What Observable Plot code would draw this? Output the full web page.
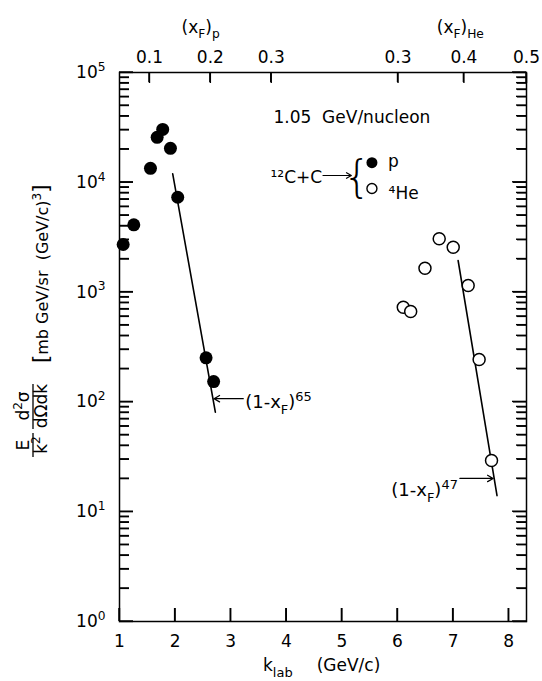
<!DOCTYPE html>
<html><head><meta charset="utf-8">
<script src="https://cdn.jsdelivr.net/npm/d3@7"></script>
<script src="https://cdn.jsdelivr.net/npm/@observablehq/plot@0.6"></script>
<style>body{margin:0;background:#fff} svg{display:block}</style>
</head><body><div id="chart"></div>
<script>
// ---- data ----
const protonK   = [1.066, 1.257, 1.557, 1.677, 1.777, 1.916, 2.047, 2.557, 2.693];
const protonXs  = [2715, 4100, 13400, 25700, 30300, 20400, 7310, 252, 153];
const heliumK   = [6.104, 6.237, 6.494, 6.750, 7.002, 7.271, 7.468, 7.691];
const heliumXs  = [728, 666, 1650, 3057, 2565, 1148, 243, 29.3];
const protonFitK  = [1.957, 2.724];
const protonFitXs = [11950, 80.6];
const heliumFitK  = [7.09, 7.79];
const heliumFitXs = [1940, 14];
const kTicks   = [1, 2, 3, 4, 5, 6, 7, 8];
const yDecades = [1, 10, 100, 1000, 10000, 100000];
const xFpLabels  = ["0.1", "0.2", "0.3"];
const xFpAtK     = [1.539, 2.634, 3.729];
const xFHeLabels = ["0.3", "0.4", "0.5"];
const xFHeAtK    = [6.009, 7.194, 8.32];

const protons = protonK.map((k, i) => ({k, v: protonXs[i]}));
const helium  = heliumK.map((k, i) => ({k, v: heliumXs[i]}));
const pFit = protonFitK.map((k, i) => ({k, v: protonFitXs[i]}));
const hFit = heliumFitK.map((k, i) => ({k, v: heliumFitXs[i]}));
const minor = yDecades.slice(0, -1).flatMap(d => [2,3,4,5,6,7,8,9].map(m => d * m));

const font = "'DejaVu Sans', sans-serif";
const W = 542, H = 681, mL = 119, mR = 16, mT = 72, mB = 60;

const svg = Plot.plot({
  width: W, height: H,
  marginLeft: mL, marginRight: mR, marginTop: mT, marginBottom: mB,
  style: {fontFamily: font, fontSize: "17px", color: "black", background: "white"},
  x: {domain: [1, 8.32]},
  y: {type: "log", domain: [1, 1e5]},
  marks: [
    Plot.frame({stroke: "black", strokeWidth: 1.5}),
    // inward ticks + labels
    Plot.axisX(kTicks, {anchor: "bottom", tickSize: 13, dy: -13, tickPadding: 13, stroke: "black", strokeWidth: 1.4, tickFormat: d => String(d), label: null}),
    Plot.axisX(xFpAtK, {anchor: "top", tickSize: 10, dy: 10, tickPadding: 10, stroke: "black", strokeWidth: 1.4, tickFormat: d => xFpLabels[xFpAtK.indexOf(d)], label: null}),
    Plot.axisX(xFHeAtK, {anchor: "top", tickSize: 10, dy: 10, tickPadding: 10, stroke: "black", strokeWidth: 1.4, tickFormat: d => xFHeLabels[xFHeAtK.indexOf(d)], label: null}),
    Plot.axisY(yDecades, {anchor: "left", tickSize: 14, dx: 14, tickPadding: 14, stroke: "black", strokeWidth: 1.3, tickFormat: d => "10^{" + Math.round(Math.log10(d)) + "}", label: null}),
    Plot.axisY(minor, {anchor: "left", tickSize: 10, dx: 10, stroke: "black", strokeWidth: 1.3, tickFormat: () => "", label: null}),
    Plot.axisY(yDecades, {anchor: "right", tickSize: 14, dx: -14, stroke: "black", strokeWidth: 1.3, tickFormat: () => "", label: null}),
    Plot.axisY(minor, {anchor: "right", tickSize: 10, dx: -10, stroke: "black", strokeWidth: 1.3, tickFormat: () => "", label: null}),
    // fits
    Plot.line(pFit, {x: "k", y: "v", stroke: "black", strokeWidth: 1.6}),
    Plot.line(hFit, {x: "k", y: "v", stroke: "black", strokeWidth: 1.6}),
    // data
    Plot.dot(protons, {x: "k", y: "v", r: 6.5, fill: "black", stroke: "none"}),
    Plot.dot(helium, {x: "k", y: "v", r: 6, fill: "white", stroke: "black", strokeWidth: 1.5}),
    // fit annotations
    Plot.arrow([0], {x1: 3.226, y1: 107, x2: 2.70, y2: 107, stroke: "black", strokeWidth: 1.2, headLength: 8}),
    Plot.text(["(1-x_{F})^{65}"], {x: 3.26, y: 99, textAnchor: "start", fontSize: 18}),
    Plot.arrow([0], {x1: 7.122, y1: 20.1, x2: 7.72, y2: 20.1, stroke: "black", strokeWidth: 1.2, headLength: 8}),
    Plot.text(["(1-x_{F})^{47}"], {x: 7.086, y: 15.6, textAnchor: "end", fontSize: 18}),
    // legend
    Plot.text(["1.05  GeV/nucleon"], {x: 5.18, y: 38900, fontSize: 17}),
    Plot.text(["¹²C+C"], {x: 4.645, y: 11000, textAnchor: "end", fontSize: 17}),
    Plot.arrow([0], {x1: 4.66, y1: 11530, x2: 5.17, y2: 11530, stroke: "black", strokeWidth: 1.2, headLength: 7}),
    Plot.text(["{"], {x: 5.27, y: 11000, fontSize: 44, fontWeight: 300}),
    Plot.dot([0], {x: 5.54, y: 15100, r: 5.5, fill: "black"}),
    Plot.dot([0], {x: 5.54, y: 8780, r: 5, fill: "white", stroke: "black", strokeWidth: 1.4}),
    Plot.text(["p"], {x: 5.83, y: 15500, textAnchor: "start", fontSize: 17}),
    Plot.text(["⁴He"], {x: 5.84, y: 7900, textAnchor: "start", fontSize: 17}),
    // top axis titles
    Plot.text(["(x_{F})_{p}"], {x: 2.46, frameAnchor: "top", dy: -52, fontSize: 17}),
    Plot.text(["(x_{F})_{He}"], {x: 7.13, frameAnchor: "top", dy: -52, fontSize: 17})
  ]
});

document.getElementById("chart").appendChild(svg);

// turn ^{..} and _{..} into real superscript / subscript tspans
function richify(root) {
  const re = /([\^_])\{([^}]*)\}|([^\^_]+)/g;
  d3.select(root).selectAll("text").each(function() {
    const t = this.textContent;
    if (!/[\^_]\{/.test(t)) return;
    const fs = parseFloat(getComputedStyle(this).fontSize) || 17;
    this.textContent = "";
    let shift = 0;
    for (const m of t.matchAll(re)) {
      let target = 0, str, small = false;
      if (m[1]) { target = m[1] === "^" ? -0.42 * fs : 0.32 * fs; str = m[2]; small = true; }
      else str = m[3];
      const ts = d3.select(this).append("tspan").text(str);
      if (target !== shift) ts.attr("dy", target - shift);
      if (small) ts.attr("font-size", 0.72 * fs);
      shift = target;
    }
  });
}
richify(svg);

const s = d3.select(svg);
// x-axis title
const xl = s.append("text").attr("x", 263).attr("y", 671).attr("text-anchor", "start")
  .attr("font-family", font).attr("font-size", 17).attr("fill", "black");
xl.append("tspan").text("k");
xl.append("tspan").attr("dy", 6).attr("font-size", 13).text("lab");
xl.append("tspan").attr("dy", -6).attr("dx", 24).text("(GeV/c)");

// y-axis title (rotated)
const g = s.append("g").attr("transform", "rotate(-90)").attr("font-family", font).attr("fill", "black");
g.append("text").attr("x", -445).attr("y", 29).attr("text-anchor", "middle").attr("font-size", 17).text("E");
g.append("line").attr("x1", -457).attr("x2", -433).attr("y1", 33).attr("y2", 33).attr("stroke", "black").attr("stroke-width", 1.3);
const k2 = g.append("text").attr("x", -445).attr("y", 47).attr("text-anchor", "middle").attr("font-size", 17);
k2.append("tspan").text("k");
k2.append("tspan").attr("dy", -7).attr("font-size", 12).text("2");
const num = g.append("text").attr("x", -406).attr("y", 29).attr("text-anchor", "middle").attr("font-size", 17);
num.append("tspan").text("d");
num.append("tspan").attr("dy", -7).attr("font-size", 12).text("2");
num.append("tspan").attr("dy", 7).text("σ");
g.append("line").attr("x1", -429).attr("x2", -384).attr("y1", 33).attr("y2", 33).attr("stroke", "black").attr("stroke-width", 1.3);
g.append("text").attr("x", -406).attr("y", 47).attr("text-anchor", "middle").attr("font-size", 17).text("dΩdk");
const unit = g.append("text").attr("x", -363).attr("y", 48).attr("text-anchor", "start").attr("font-size", 16);
unit.append("tspan").attr("font-size", 21).text("[");
unit.append("tspan").text("mb GeV/sr  (GeV/c)");
unit.append("tspan").attr("dy", -7).attr("font-size", 12).text("3");
unit.append("tspan").attr("dy", 7).attr("font-size", 21).text("]");

// inward tick marks drawn on top, positioned with Plot's own scales
const xs = svg.scale("x").apply, ys = svg.scale("y").apply;
const fx0 = mL, fx1 = W - mR, fy0 = mT, fy1 = H - mB;
const tk = s.append("g").attr("stroke", "black").attr("stroke-width", 1.4).attr("fill", "none");
const seg = (a, b, c, d) => tk.append("line").attr("x1", a).attr("y1", b).attr("x2", c).attr("y2", d);
kTicks.forEach(k => seg(xs(k), fy1, xs(k), fy1 - 13));
xFpAtK.concat(xFHeAtK).forEach(k => seg(xs(k), fy0, xs(k), fy0 + 10));
yDecades.forEach(v => { seg(fx0, ys(v), fx0 + 14, ys(v)); seg(fx1, ys(v), fx1 - 14, ys(v)); });
minor.forEach(v => { seg(fx0, ys(v), fx0 + 10, ys(v)); seg(fx1, ys(v), fx1 - 10, ys(v)); });
</script>
</body></html>
